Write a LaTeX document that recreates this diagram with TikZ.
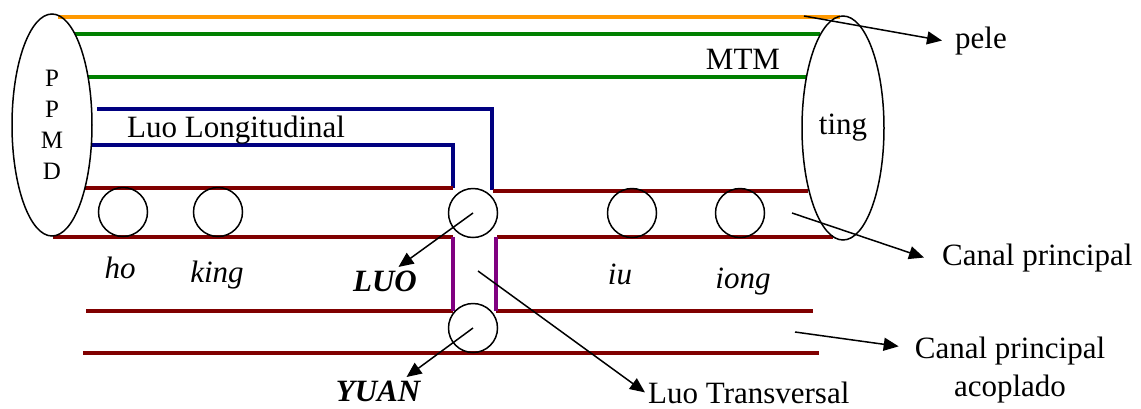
\documentclass[tikz,border=0pt]{standalone}
\usepackage{fontspec}
\setmainfont{Liberation Serif}
\usepackage{tikz}
\usetikzlibrary{arrows.meta, positioning, shapes.geometric}
\usepackage{xcolor}
\definecolor{skin}{RGB}{255,153,0}
\definecolor{tendon}{RGB}{0,128,0}
\definecolor{luoblue}{RGB}{0,0,128}
\definecolor{canal}{RGB}{128,0,0}
\definecolor{transv}{RGB}{128,0,128}

\begin{document}
\begin{tikzpicture}[x=1pt, y=-1pt,
    big/.style={font=\fontsize{31}{38}\selectfont},
    vessel/.style={line width=4pt},
    point/.style={draw, circle, line width=1.5pt, minimum size=49pt, inner sep=0pt},
    tip/.style={line width=1.5pt, -{Triangle[length=15pt, width=13pt]}}]
            \useasboundingbox (0,0) rectangle (1141,408);
            % skin and tendino-muscular layers
            \draw[vessel, skin] (58,17) -- (840,17);
            \draw[vessel, tendon] (75,34) -- (820,34);
            \draw[vessel, tendon] (88,77) -- (806,77);
            % longitudinal luo
            \draw[vessel, luoblue] (97,109) -- (492,109) -- (492,190);
            \draw[vessel, luoblue] (92,145) -- (453,145) -- (453,188);
            % main channel
            \draw[vessel, canal] (85,188) -- (453,188);
            \draw[vessel, canal] (493,191) -- (808,191);
            \draw[vessel, canal] (53,237) -- (453,237);
            \draw[vessel, canal] (497,237) -- (833,237);
            % coupled channel
            \draw[vessel, canal] (86,311) -- (453,311);
            \draw[vessel, canal] (496,311) -- (813,311);
            \draw[vessel, canal] (83,353) -- (819,353);
            % transversal luo
            \draw[vessel, transv] (453,237) -- (453,311);
            \draw[vessel, transv] (496,237) -- (496,311);

            \node[draw, ellipse, line width=1.5pt, minimum width=80pt, minimum height=222pt, inner sep=0pt, align=center, font=\fontsize{25}{31}\selectfont] (ppmd) at (52,125) {P\\P\\M\\D};
            \node[draw, ellipse, line width=1.5pt, minimum width=82pt, minimum height=224pt, inner sep=0pt, big] (ting) at (843,128) {ting};

            \node[point] (cho) at (123,212) {};
            \node[point] (cking) at (218,212) {};
            \node[point] (cluo) at (473,213) {};
            \node[point] (ciu) at (632,213) {};
            \node[point] (ciong) at (740,213) {};
            \node[point] (cyuan) at (473,328) {};

            \node[big, anchor=base] (mtm) at (743,69) {MTM};
            \node[big, anchor=base west, inner sep=0pt] (longi) at (127,137) {Luo Longitudinal};
            \node[big, anchor=base] (ho) at (120,278) {\itshape ho};
            \node[big, anchor=base] (king) at (217,282) {\itshape king};
            \node[big, anchor=base] (luo) at (385,291) {\bfseries\itshape LUO};
            \node[big, anchor=base] (iu) at (620,284) {\itshape iu};
            \node[big, anchor=base] (iong) at (743,288) {\itshape iong};
            \node[big, anchor=base] (yuan) at (378,401) {\bfseries\itshape YUAN};
            \node[big, anchor=base west, inner xsep=13pt] (pele) at (942,48) {pele};
            \node[big, anchor=base west, inner xsep=18pt] (canal) at (924,265) {Canal principal};
            \node[big, anchor=base west, inner xsep=3pt] (transversal) at (645,403) {Luo Transversal};
            \node[big, align=center, inner xsep=16pt] (acoplado) at (1010,370) {Canal principal\\acoplado};

            \coordinate (skinpt) at (804,16);
            \coordinate (canalpt) at (792,213);
            \coordinate (acoplpt) at (795,332);
            \coordinate (transpt) at (478,271);
            \draw[tip] (skinpt) -- (pele.west);
            \draw[tip] (canalpt) -- (canal.west);
            \draw[tip] (acoplpt) -- (acoplado.168);
            \draw[tip] (transpt) -- (transversal.west);
            \draw[tip] (cluo.center) -- (luo.46);
            \draw[tip] (cyuan.center) -- (yuan.26);
        \end{tikzpicture}
\end{document}
